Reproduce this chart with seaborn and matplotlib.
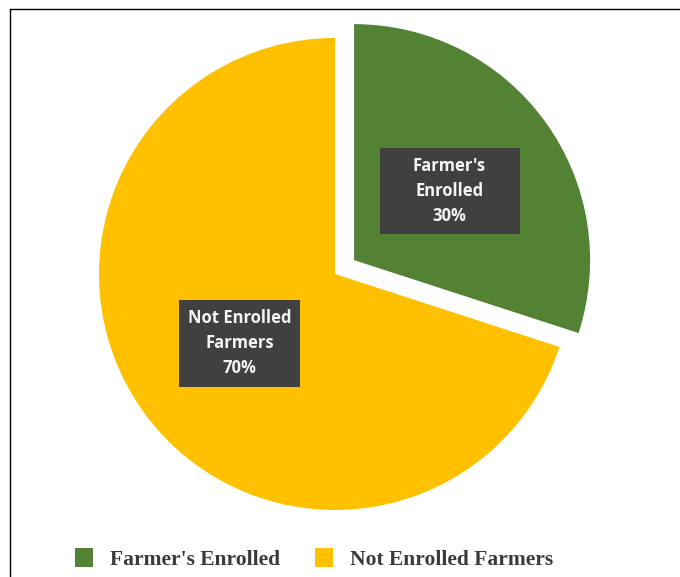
import numpy as np
import matplotlib
matplotlib.use("Agg")
import matplotlib.pyplot as plt
from matplotlib.patches import Rectangle, Patch
from matplotlib.lines import Line2D
import seaborn as sns

# Enrollment shares
categories = ["Farmer's Enrolled", "Not Enrolled Farmers"]
label_names = ["Farmer's\nEnrolled", "Not Enrolled\nFarmers"]
shares = [30, 70]
colors = ["#548235", "#FFC000"]

sns.set_theme(style="white")
plt.rcParams["font.family"] = ["Open Sans", "DejaVu Sans"]

W, H, DPI = 680, 577, 100
fig = plt.figure(figsize=(W / DPI, H / DPI), dpi=DPI)
fig.patch.set_facecolor("white")

# pie geometry in pixels (radius and center), converted to data limits
R_PX = 236.0
CX, CY = 335.0, 274.0
ax = fig.add_axes([0, 0, 1, 1])
wedges, _ = ax.pie(
    shares,
    colors=colors,
    startangle=90,
    counterclock=False,
    explode=[0.1, 0.0],
    radius=1.0,
    wedgeprops=dict(linewidth=0),
)
ax.set_xlim(-CX / R_PX, (W - CX) / R_PX)
ax.set_ylim(-(H - CY) / R_PX, CY / R_PX)
ax.set_aspect("auto")
ax.axis("off")

# dark data-label boxes inside each wedge
box_sizes = [(140, 86), (121, 87)]
for wedge, name, share, (bw, bh) in zip(wedges, label_names, shares, box_sizes):
    mid = np.deg2rad((wedge.theta1 + wedge.theta2) / 2.0)
    cx, cy = wedge.center
    lx = cx + 0.5 * np.cos(mid)
    ly = cy + 0.5 * np.sin(mid)
    w, h = bw / R_PX, bh / R_PX
    ax.add_patch(Rectangle((lx - w / 2, ly - h / 2), w, h,
                           facecolor="#404040", edgecolor="none", zorder=3))
    ax.text(lx, ly, f"{name}\n{share}%", ha="center", va="center",
            color="#f4f4f4", fontsize=12, fontweight="bold",
            linespacing=1.5, zorder=4)

# legend along the bottom
handles = [Patch(facecolor=c, edgecolor="none") for c in colors]
fig.legend(
    handles, categories,
    loc="center", bbox_to_anchor=(314 / W, 1 - 559 / H),
    ncol=2, frameon=False,
    prop=dict(family=["Liberation Serif"], weight="bold", size=15.5),
    labelcolor="#3a3a3a",
    handlelength=0.85, handleheight=0.95, handletextpad=0.8,
    columnspacing=1.6,
)

# thin frame line along the top and left
fig.add_artist(Line2D([10 / W, 10 / W], [0, 1 - 9 / H], transform=fig.transFigure,
                      color="black", linewidth=1.0))
fig.add_artist(Line2D([10 / W, 1], [1 - 9 / H, 1 - 9 / H], transform=fig.transFigure,
                      color="black", linewidth=1.0))

fig.savefig("out.png", dpi=DPI)
